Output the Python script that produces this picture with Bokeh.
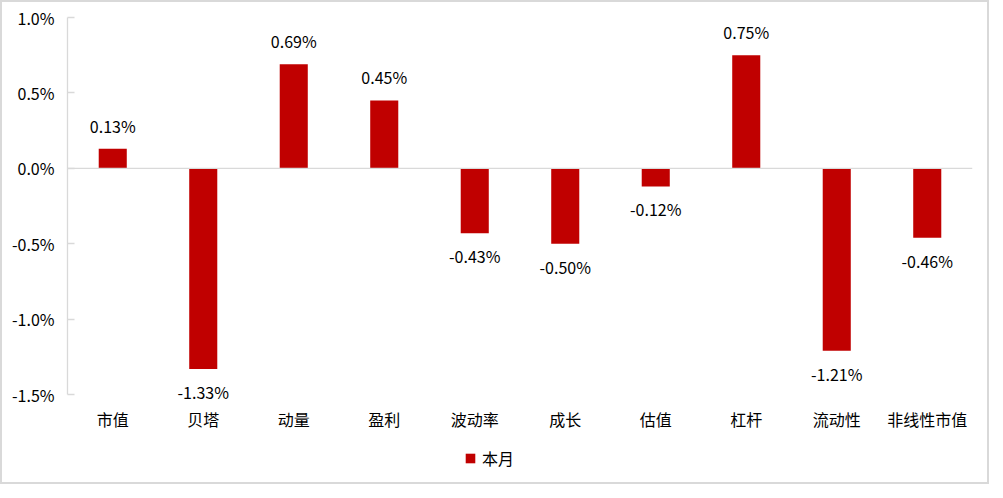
from bokeh.plotting import figure
from bokeh.models import ColumnDataSource, FactorRange, Range1d, FixedTicker, NumeralTickFormatter, Span, Legend, LegendItem
from bokeh.core.properties import value
from bokeh.embed import file_html
from bokeh.resources import INLINE

categories = ["市值", "贝塔", "动量", "盈利", "波动率", "成长", "估值", "杠杆", "流动性", "非线性市值"]
values_pct = [0.13, -1.33, 0.69, 0.45, -0.43, -0.50, -0.12, 0.75, -1.21, -0.46]
y_ticks_pct = [-1.5, -1.0, -0.5, 0.0, 0.5, 1.0]
series_name = "本月"

FONT = "Noto Sans CJK SC"
BAR_COLOR = "#C00000"
GRID_COLOR = "#D9D9D9"

vals = [v / 100.0 for v in values_pct]
labels = [f"{v:.2f}%" for v in values_pct]
offsets = [-23 if v >= 0 else 23 for v in values_pct]

src = ColumnDataSource(dict(cat=categories, val=vals, lab=labels, off=offsets))

# frame extends below the -1.5% tick so that labels and legend are not clipped
p = figure(
    x_range=FactorRange(*categories),
    y_range=Range1d(-0.0203, 0.010),
    frame_width=905, frame_height=457,
    min_border_left=65, min_border_right=15, min_border_top=15, min_border_bottom=8,
    output_backend="svg", toolbar_location=None,
)
p.styles = {"border": "2px solid #D9D9D9"}
p.outline_line_color = None
p.xgrid.visible = False
p.ygrid.visible = False

zero = Span(location=0, dimension="width", line_color=GRID_COLOR, line_width=1.3)
p.add_layout(zero)

bars = p.vbar(x="cat", top="val", bottom=0, width=0.31, source=src,
              fill_color=BAR_COLOR, line_color=None)

p.text(x="cat", y="val", text="lab", source=src, y_offset="off",
       text_align="center", text_baseline="middle",
       text_font=value(FONT), text_font_size="16px", text_color="#000000")

# y axis
yax = p.yaxis[0]
yax.ticker = FixedTicker(ticks=[t / 100.0 for t in y_ticks_pct])
yax.bounds = (y_ticks_pct[0] / 100.0, y_ticks_pct[-1] / 100.0)
yax.formatter = NumeralTickFormatter(format="0.0%")
yax.axis_line_color = GRID_COLOR
yax.axis_line_width = 1.3
yax.major_tick_line_color = GRID_COLOR
yax.major_tick_line_width = 1.3
yax.major_tick_in = 7
yax.major_tick_out = 0
yax.minor_tick_line_color = None
yax.major_label_text_font = FONT
yax.major_label_text_font_size = "16px"
yax.major_label_text_color = "#000000"
yax.major_label_standoff = 13

# x axis (labels pulled up to sit just below the -1.5% level)
xax = p.xaxis[0]
xax.axis_line_color = None
xax.major_tick_line_color = None
xax.minor_tick_line_color = None
xax.major_tick_in = 0
xax.major_tick_out = 0
xax.major_label_text_font = FONT
xax.major_label_text_font_size = "16px"
xax.major_label_text_color = "#000000"
xax.major_label_standoff = -68

legend = Legend(items=[LegendItem(label=series_name, renderers=[bars])],
                location=(397, 4), orientation="horizontal",
                label_text_font=FONT, label_text_font_size="16px",
                label_text_color="#000000",
                glyph_width=12, glyph_height=12,
                border_line_color=None, background_fill_alpha=0,
                padding=4, label_standoff=6, margin=0)
p.add_layout(legend, "center")

open("out.html", "w").write(file_html(p, INLINE))
